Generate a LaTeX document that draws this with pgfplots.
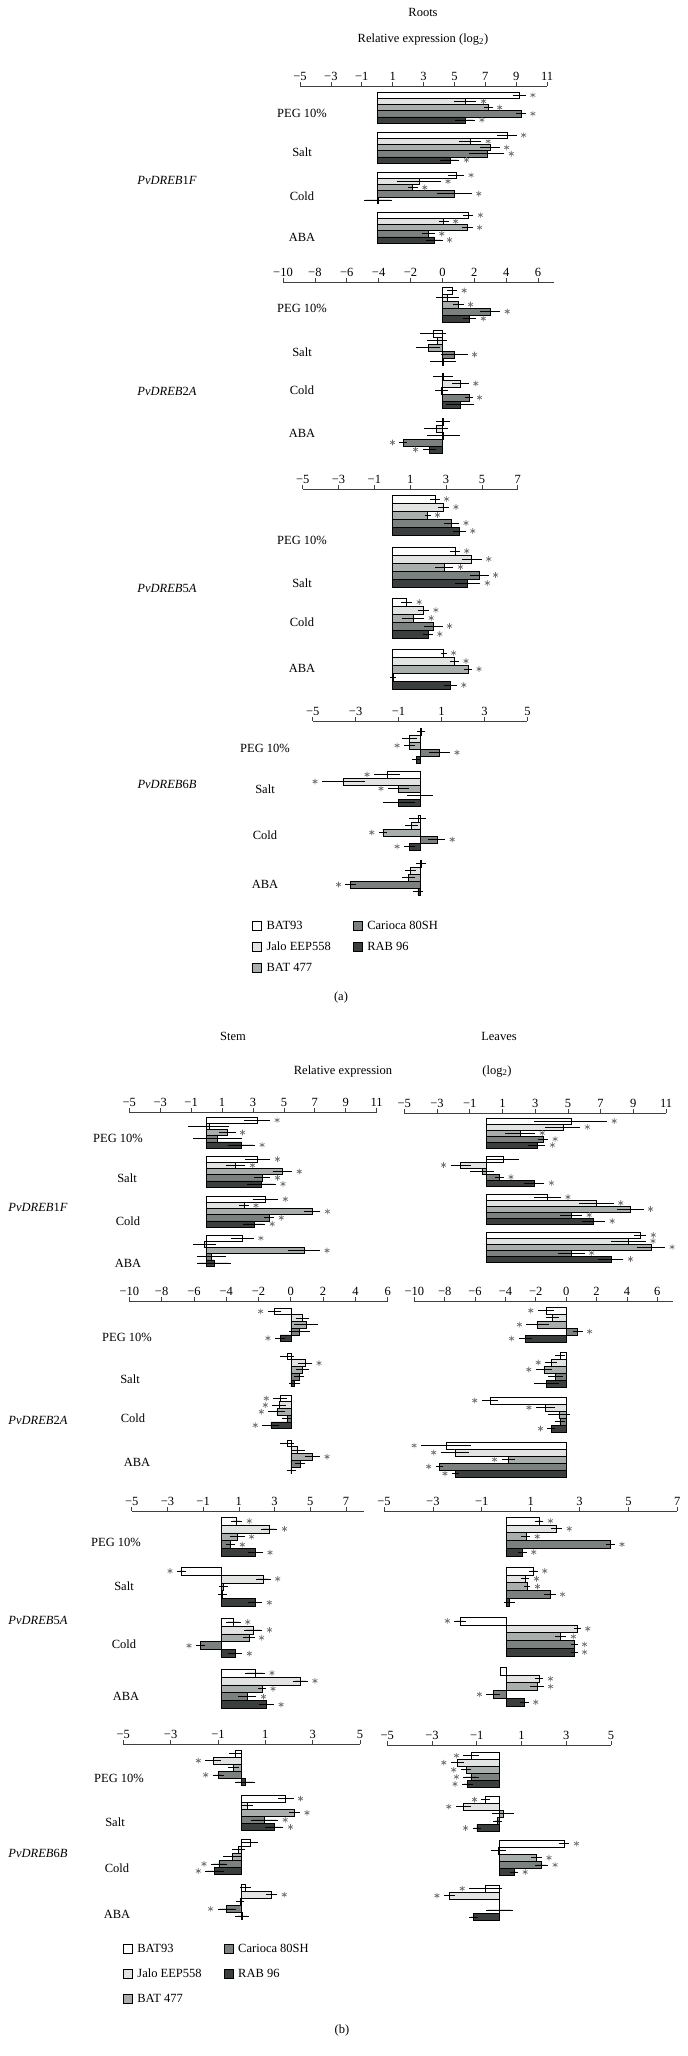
\documentclass[border=0pt]{standalone}
\usepackage{fontspec}
\setmainfont{Liberation Serif}
\usepackage{pgfplots}
\usepackage{pgfplotstable}
\pgfplotsset{compat=1.18}
\definecolor{c1}{HTML}{FFFFFF}
\definecolor{c2}{HTML}{E2E4E2}
\definecolor{c3}{HTML}{A8AEAC}
\definecolor{c4}{HTML}{7A817F}
\definecolor{c5}{HTML}{3B3E3E}
\definecolor{starcol}{HTML}{707070}
\newcommand\fs{\fontsize{12.5}{14}\selectfont}

\pgfplotsset{
  panel/.style={scale only axis, axis x line*=top, axis y line=none, ytick=\empty,
    xtick align=outside, major tick length=4pt,
    every tick/.style={black!75, line width=0.7pt},
    axis line style={-, black!75, line width=0.7pt},
    xticklabel style={font=\fs, inner sep=1pt},
    clip=false, anchor=north west},
  tA/.style={xtick={-5,-3,...,11}, xticklabels={−5,−3,−1,1,3,5,7,9,11}},
  tB/.style={xtick={-10,-8,...,6}, xticklabels={−10,−8,−6,−4,−2,0,2,4,6}},
  tC/.style={xtick={-5,-3,...,7}, xticklabels={−5,−3,−1,1,3,5,7}},
  tD/.style={xtick={-5,-3,...,5}, xticklabels={−5,−3,−1,1,3,5}},
  sq/.style={legend image code/.code={\draw[##1, line width=0.6pt] (0pt,-4.5pt) rectangle (9pt,4.5pt);}},
}

% columns: g = top of group (px); v = value (log2); e = error; s = star flag
\pgfplotstableread{
g v1 e1 s1 v2 e2 s2 v3 e3 s3 v4 e4 s4 v5 e5 s5
92 9.2 0.3 1 5.7 0.6 1 7.2 0.15 1 9.3 0.2 1 5.7 0.5 1
132 8.4 0.5 1 6.0 0.6 1 7.3 0.5 1 7.1 1.0 1 4.7 0.5 1
172 5.1 0.4 1 2.7 1.3 1 2.3 0.2 1 5.0 1.0 1 0.05 0.8 0
212 5.9 0.2 1 4.3 0.2 1 5.85 0.2 1 3.3 0.3 1 3.7 0.4 1
}\tAa
\pgfplotstableread{
g v1 e1 s1 v2 e2 s2 v3 e3 s3 v4 e4 s4 v5 e5 s5
287 0.6 0.2 1 0.3 0.6 0 1.0 0.2 1 3.0 0.5 1 1.7 0.3 1
330 -0.6 0.7 0 -0.35 0.5 0 -0.9 0.6 0 0.75 0.7 1 0.05 0.7 0
373 0.05 0.5 0 1.13 0.4 1 -0.05 0.3 0 1.67 0.1 1 1.13 0.75 0
418 0.05 0.3 0 -0.4 0.6 0 0.05 0.9 0 -2.47 0.1 1 -0.82 0.3 1
}\tAb
\pgfplotstableread{
g v1 e1 s1 v2 e2 s2 v3 e3 s3 v4 e4 s4 v5 e5 s5
495 2.38 0.15 1 2.85 0.2 1 1.97 0.05 1 3.31 0.3 1 3.74 0.25 1
547 3.5 0.15 1 4.43 0.45 1 2.9 0.4 1 4.86 0.4 1 4.2 0.6 1
598 0.8 0.2 1 1.73 0.2 1 1.17 0.5 1 2.29 0.4 1 2.0 0.15 1
649 2.87 0.05 1 3.46 0.15 1 4.24 0.1 1 0.03 0.05 0 3.24 0.25 1
}\tAc
\pgfplotstableread{
g v1 e1 s1 v2 e2 s2 v3 e3 s3 v4 e4 s4 v5 e5 s5
728 0.05 0.1 0 -0.5 0.25 0 -0.5 0.15 1 0.9 0.4 1 -0.18 0.1 0
771 -1.55 0.5 1 -3.57 0.9 1 -1.0 0.4 1 0.0 0.5 0 -1.0 0.65 0
815 -0.1 0.3 0 -0.4 0.2 0 -1.73 0.1 1 0.78 0.3 1 -0.5 0.15 1
860 0.05 0.15 0 -0.45 0.15 0 -0.55 0.2 0 -3.23 0.15 1 -0.1 0.15 0
}\tAd
\pgfplotstableread{
g v1 e1 s1 v2 e2 s2 v3 e3 s3 v4 e4 s4 v5 e5 s5
1117 3.28 0.7 1 0.15 1.2 0 1.34 0.4 1 0.69 1.45 0 2.26 0.75 1
1156 3.3 0.7 1 1.88 0.5 1 4.91 0.5 1 3.6 0.4 1 3.56 0.8 1
1196 3.81 0.7 1 2.41 0.2 1 6.83 0.4 1 4.05 0.2 1 3.06 0.6 1
1235 2.33 0.6 1 -0.15 0.6 0 6.31 0.9 1 0.32 0.8 0 0.47 0.95 0
}\tBa
\pgfplotstableread{
g v1 e1 s1 v2 e2 s2 v3 e3 s3 v4 e4 s4 v5 e5 s5
1308 -1.01 0.3 1 0.72 0.3 0 0.93 0.6 0 0.54 0.5 0 -0.66 0.2 1
1353 -0.25 0.3 0 0.89 0.3 1 0.72 0.3 0 0.52 0.2 0 0.23 0.2 0
1395 -0.66 0.3 1 -0.72 0.3 1 -0.87 0.4 1 -0.25 0.2 0 -1.24 0.4 1
1440 -0.25 0.3 0 0.43 0.3 0 1.34 0.35 1 0.58 0.2 0 0.02 0.15 0
}\tBb
\pgfplotstableread{
g v1 e1 s1 v2 e2 s2 v3 e3 s3 v4 e4 s4 v5 e5 s5
1517 0.88 0.2 1 2.7 0.35 1 0.91 0.3 1 0.54 0.15 1 1.94 0.3 1
1567 -2.2 0.15 1 2.37 0.3 1 0.13 0.15 0 0.07 0.15 0 1.9 0.3 1
1618 0.69 0.3 1 1.81 0.4 1 1.57 0.2 1 -1.14 0.15 1 0.78 0.3 1
1669 1.9 0.45 1 4.46 0.3 1 2.31 0.1 1 1.47 0.4 1 2.56 0.3 1
}\tBc
\pgfplotstableread{
g v1 e1 s1 v2 e2 s2 v3 e3 s3 v4 e4 s4 v5 e5 s5
1750 -0.25 0.2 0 -1.2 0.25 1 -0.35 0.15 0 -0.99 0.15 1 0.14 0.35 0
1795 1.86 0.25 1 0.24 0.15 0 2.23 0.15 1 0.96 0.5 1 1.38 0.3 1
1839 0.35 0.25 0 -0.14 0.2 0 -0.39 0.3 0 -0.96 0.25 1 -1.15 0.3 1
1884 0.17 0.15 0 1.27 0.15 1 -0.07 0.1 0 -0.63 0.3 1 0.02 0.2 0
}\tBd
\pgfplotstableread{
g v1 e1 s1 v2 e2 s2 v3 e3 s3 v4 e4 s4 v5 e5 s5
1118 5.18 2.1 1 4.69 0.95 1 2.08 0.8 1 3.47 0.2 1 3.1 0.4 1
1156 1.02 0.85 0 -1.55 0.5 1 -0.26 0.6 0 0.82 0.15 1 2.94 0.5 1
1194 3.75 0.7 1 6.73 0.95 1 8.8 0.7 1 5.2 0.55 1 6.56 0.6 1
1232 9.42 0.25 1 8.7 0.95 1 10.07 0.75 1 5.2 0.7 1 7.62 0.65 1
}\tCa
\pgfplotstableread{
g v1 e1 s1 v2 e2 s2 v3 e3 s3 v4 e4 s4 v5 e5 s5
1307 -1.34 0.4 1 -0.9 0.3 0 -1.89 0.6 1 0.75 0.2 1 -2.7 0.3 1
1352 -0.42 0.2 0 -1.0 0.25 1 -1.47 0.4 1 -0.7 0.35 0 -1.3 0.7 0
1397 -5.03 0.4 1 -1.36 0.5 1 -0.48 0.6 0 -0.42 0.2 0 -1.0 0.1 1
1442 -7.92 1.5 1 -7.33 0.8 1 -3.82 0.3 1 -8.36 0.1 1 -7.29 0.1 1
}\tCb
\pgfplotstableread{
g v1 e1 s1 v2 e2 s2 v3 e3 s3 v4 e4 s4 v5 e5 s5
1517 1.34 0.1 1 2.06 0.15 1 0.8 0.1 1 4.27 0.1 1 0.66 0.1 1
1567 1.11 0.1 1 0.77 0.1 1 0.86 0.05 1 1.79 0.15 1 0.13 0.15 0
1617 -1.89 0.15 1 2.92 0.05 1 2.23 0.15 1 2.79 0.05 1 2.79 0.05 1
1667 -0.23 0.0 0 1.34 0.1 1 1.25 0.2 1 -0.53 0.2 1 0.74 0.1 1
}\tCc
\pgfplotstableread{
g v1 e1 s1 v2 e2 s2 v3 e3 s3 v4 e4 s4 v5 e5 s5
1752 -1.26 0.25 1 -1.87 0.2 1 -1.48 0.15 1 -1.26 0.25 1 -1.42 0.15 1
1796 -0.6 0.1 1 -1.6 0.25 1 0.19 0.4 0 -0.08 0.1 0 -1.0 0.1 1
1840 2.9 0.15 1 -0.04 0.25 0 1.68 0.15 1 1.9 0.2 1 0.66 0.1 1
1885 -0.6 0.65 1 -2.23 0.15 1 0.0 0.0 0 0.02 0.5 0 -1.15 0.1 0
}\tCd

\let\extra\relax
% #1 table, #2 x px of xmin, #3 y px of axis line, #4 px per unit, #5 xmin, #6 xmax, #7 bottom px, #8 bar height px, #9 styles
\newcommand{\panel}[9]{%
  \pgfmathsetmacro{\W}{(#6-(#5))*#4}%
  \pgfmathsetmacro{\H}{#7-#3}%
  \pgfmathsetmacro{\g}{9/#4}%
  \def\h{#8}%
  \begin{axis}[panel,#9, at={(#2pt,-#3pt)}, width=\W pt, height=\H pt,
      xmin=#5, xmax=#6, ymin=-#7, ymax=-#3]
    \extra
    \pgfplotsinvokeforeach{1,...,5}{%
      \addplot[xbar, bar shift=0pt, bar width=\h, fill=c##1, draw=black, line width=0.5pt,
        error bars/.cd, x dir=both, x explicit,
        error bar style={black, line width=0.6pt},
        error mark options={black, line width=0.6pt, mark size=2pt}]
        table[x=v##1, y expr={-(\thisrow{g}+(##1-0.5)*\h)}, x error=e##1] {#1};
      \addplot[only marks, mark=asterisk, mark size=2.8pt, restrict x to domain=-40:40,
        mark options={draw=starcol, line width=0.7pt}]
        table[x expr={\thisrow{v##1}+(\thisrow{v##1}<0 ? -1 : 1)*(\thisrow{e##1}+\g)+(1-\thisrow{s##1})*200},
              y expr={-(\thisrow{g}+(##1-0.5)*\h)}] {#1};
    }
  \end{axis}}

\begin{document}
\begin{tikzpicture}[every node/.style={font=\fs}]
\useasboundingbox (0,0) rectangle (688pt,-2056pt);

% ---------------- (a) Roots ----------------
\node at (423pt,-12pt) {Roots};
\node at (423pt,-40pt) {Relative expression (log\textsubscript{2})};

\panel{\tAa}{300}{86}{15.44}{-5}{11}{245}{6.2}{tA}
\panel{\tAb}{283}{282}{15.94}{-10}{7}{455}{7}{tB}
\panel{\tAc}{302.7}{489}{17.92}{-5}{7}{691}{8}{tC}
\def\extra{%
  \addlegendimage{sq, fill=c1, draw=black}
  \addlegendimage{sq, fill=c4, draw=black}
  \addlegendimage{sq, fill=c2, draw=black}
  \addlegendimage{sq, fill=c5, draw=black}
  \addlegendimage{sq, fill=c3, draw=black}
  \legend{BAT93,Carioca 80SH,Jalo EEP558,RAB 96,BAT 477}}
\panel{\tAd}{312.7}{721}{21.47}{-5}{5}{898}{7}{tD,
  legend columns=2, legend cell align=left,
  legend style={at={(axis cs:-7.84,-919)}, anchor=north west, draw=none, fill=none,
    font=\fs, inner sep=0pt, row sep=7pt,
    /tikz/every odd column/.append style={column sep=3pt},
    /tikz/every even column/.append style={column sep=20pt}}}
\let\extra\relax

\foreach \yy/\tt in {113/PEG 10\%,152/Salt,196/Cold,237/ABA,
                     308/PEG 10\%,352/Salt,390/Cold,433/ABA,
                     540/PEG 10\%,583/Salt,622/Cold,668/ABA}
  {\node at (302pt,-\yy pt) {\tt};}
\foreach \yy/\tt in {748/PEG 10\%,789/Salt,835/Cold,884/ABA}
  {\node at (265pt,-\yy pt) {\tt};}
\node at (167pt,-180pt) {\textit{PvDREB}1\textit{F}};
\node at (167pt,-391pt) {\textit{PvDREB}2\textit{A}};
\node at (167pt,-588pt) {\textit{PvDREB}5\textit{A}};
\node at (167pt,-784pt) {\textit{PvDREB}6\textit{B}};
\node at (341pt,-997pt) {(a)};

% ---------------- (b) Stem / Leaves ----------------
\node at (233pt,-1036pt) {Stem};
\node at (499pt,-1036pt) {Leaves};
\node at (343pt,-1071pt) {Relative expression};
\node at (497pt,-1071pt) {(log\textsubscript{2})};

\panel{\tBa}{129.3}{1112}{15.46}{-5}{11}{1268}{6.2}{tA}
\panel{\tBb}{129.3}{1301}{16.15}{-10}{6}{1474}{6.7}{tB}
\panel{\tBc}{131.7}{1511}{17.86}{-5}{8}{1711}{7.9}{tC}
\def\extra{%
  \addlegendimage{sq, fill=c1, draw=black}
  \addlegendimage{sq, fill=c4, draw=black}
  \addlegendimage{sq, fill=c2, draw=black}
  \addlegendimage{sq, fill=c5, draw=black}
  \addlegendimage{sq, fill=c3, draw=black}
  \legend{BAT93,Carioca 80SH,Jalo EEP558,RAB 96,BAT 477}}
\panel{\tBd}{123.3}{1744}{23.67}{-5}{5}{1922}{7.1}{tD,
  legend columns=2, legend cell align=left,
  legend style={at={(axis cs:-5.03,-1942)}, anchor=north west, draw=none, fill=none,
    font=\fs, inner sep=0pt, row sep=11pt,
    /tikz/every odd column/.append style={column sep=3pt},
    /tikz/every even column/.append style={column sep=20pt}}}
\let\extra\relax

\panel{\tCa}{404.3}{1113}{16.36}{-5}{11}{1264}{6}{tA}
\panel{\tCb}{414.3}{1301}{15.19}{-10}{7}{1479}{7}{tB}
\panel{\tCc}{384}{1511}{24.44}{-5}{7}{1708}{7.8}{tC}
\panel{\tCd}{387.3}{1745}{22.37}{-5}{5}{1922}{7.1}{tD}

\foreach \xx/\yy/\tt in {118/1138/PEG 10\%,127/1178/Salt,128/1221/Cold,128/1263/ABA,
                         127/1337/PEG 10\%,130/1379/Salt,133/1418/Cold,137/1462/ABA,
                         116/1542/PEG 10\%,124/1586/Salt,124/1644/Cold,126/1696/ABA,
                         119/1778/PEG 10\%,115/1822/Salt,117/1868/Cold,117/1914/ABA}
  {\node at (\xx pt,-\yy pt) {\tt};}
\node at (38pt,-1207pt) {\textit{PvDREB}1\textit{F}};
\node at (38pt,-1420pt) {\textit{PvDREB}2\textit{A}};
\node at (38pt,-1620pt) {\textit{PvDREB}5\textit{A}};
\node at (38pt,-1853pt) {\textit{PvDREB}6\textit{B}};
\node at (342pt,-2030pt) {(b)};
\end{tikzpicture}
\end{document}
